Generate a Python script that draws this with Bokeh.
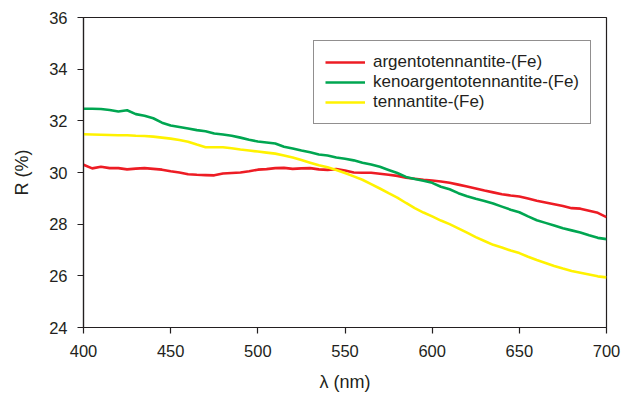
from bokeh.plotting import figure
from bokeh.models import Range1d, Legend, LegendItem, FixedTicker
from bokeh.embed import file_html
from bokeh.resources import INLINE

wavelength = list(range(400, 701, 5))

argentotennantite = [
    30.30, 30.16, 30.22, 30.17, 30.17, 30.12, 30.15, 30.17, 30.14, 30.11,
    30.05, 30.00, 29.93, 29.91, 29.90, 29.89, 29.96, 29.98, 30.00, 30.05,
    30.11, 30.13, 30.17, 30.18, 30.14, 30.16, 30.17, 30.12, 30.10, 30.13,
    30.08, 30.00, 29.99, 29.99, 29.95, 29.91, 29.87, 29.80, 29.76, 29.72,
    29.69, 29.65, 29.60, 29.53, 29.46, 29.38, 29.30, 29.23, 29.16, 29.11,
    29.07, 28.99, 28.91, 28.84, 28.77, 28.70, 28.62, 28.60, 28.52, 28.44,
    28.27,
]

kenoargentotennantite = [
    32.47, 32.47, 32.46, 32.42, 32.36, 32.41, 32.26, 32.20, 32.10, 31.93,
    31.82, 31.76, 31.70, 31.64, 31.60, 31.51, 31.47, 31.42, 31.35, 31.27,
    31.20, 31.16, 31.12, 31.00, 30.93, 30.85, 30.78, 30.70, 30.66, 30.58,
    30.53, 30.47, 30.38, 30.31, 30.22, 30.10, 29.98, 29.83, 29.75, 29.68,
    29.60, 29.45, 29.35, 29.20, 29.08, 28.98, 28.90, 28.80, 28.68, 28.56,
    28.46, 28.30, 28.15, 28.05, 27.95, 27.84, 27.76, 27.68, 27.57, 27.47,
    27.42,
]

tennantite = [
    31.48, 31.47, 31.46, 31.45, 31.44, 31.44, 31.42, 31.41, 31.39, 31.35,
    31.31, 31.26, 31.19, 31.08, 30.98, 30.98, 30.98, 30.94, 30.89, 30.85,
    30.81, 30.77, 30.73, 30.66, 30.58, 30.48, 30.38, 30.28, 30.20, 30.10,
    29.98, 29.85, 29.72, 29.55, 29.38, 29.20, 29.03, 28.82, 28.62, 28.45,
    28.30, 28.14, 28.00, 27.84, 27.67, 27.50, 27.35, 27.20, 27.10, 26.98,
    26.88, 26.74, 26.61, 26.50, 26.38, 26.28, 26.19, 26.12, 26.05, 25.98,
    25.94,
]

series_names = ["argentotennantite-(Fe)", "kenoargentotennantite-(Fe)", "tennantite-(Fe)"]
series_values = [argentotennantite, kenoargentotennantite, tennantite]
series_colors = ["#ED1C24", "#00A651", "#FFF200"]

x_ticks = [400, 450, 500, 550, 600, 650, 700]
y_ticks = [24, 26, 28, 30, 32, 34, 36]

dark = "#231F20"
font = "Liberation Sans"

p = figure(width=621, height=398, output_backend="svg", toolbar_location=None,
           x_range=Range1d(400, 700), y_range=Range1d(24, 36),
           min_border_left=83, min_border_right=15, min_border_top=17, min_border_bottom=71)

p.xgrid.visible = False
p.ygrid.visible = False
p.outline_line_color = dark
p.outline_line_width = 1.2
p.background_fill_color = "white"
p.border_fill_color = "white"

items = []
for name, vals, col in zip(series_names, series_values, series_colors):
    r = p.line(wavelength, vals, line_color=col, line_width=2.6)
    items.append(LegendItem(label=name, renderers=[r]))

for ax in (p.xaxis[0], p.yaxis[0]):
    ax.axis_line_color = dark
    ax.axis_line_width = 1.2
    ax.major_tick_line_color = dark
    ax.major_tick_line_width = 1.2
    ax.major_tick_in = 0
    ax.major_tick_out = 6
    ax.minor_tick_line_color = None
    ax.major_label_text_font = font
    ax.major_label_text_font_size = "16.5px"
    ax.major_label_text_color = dark
    ax.axis_label_text_font = font
    ax.axis_label_text_font_size = "18px"
    ax.axis_label_text_font_style = "normal"
    ax.axis_label_text_color = dark

p.xaxis.ticker = FixedTicker(ticks=x_ticks)
p.yaxis.ticker = FixedTicker(ticks=y_ticks)
p.xaxis.axis_label = "λ (nm)"
p.yaxis.axis_label = "R (%)"
p.xaxis.major_label_standoff = 11
p.yaxis.major_label_standoff = 10
p.xaxis.axis_label_standoff = 12
p.yaxis.axis_label_standoff = 14

legend = Legend(items=items, location=(230, 203))
legend.border_line_color = dark
legend.border_line_width = 1.2
legend.background_fill_color = "white"
legend.background_fill_alpha = 1
legend.label_text_font = font
legend.label_text_font_size = "17px"
legend.label_text_color = dark
legend.glyph_width = 40
legend.glyph_height = 20
legend.label_height = 20
legend.spacing = 0
legend.padding = 11
legend.margin = 0
legend.label_standoff = 8
p.add_layout(legend)

open("out.html", "w").write(file_html(p, INLINE))
